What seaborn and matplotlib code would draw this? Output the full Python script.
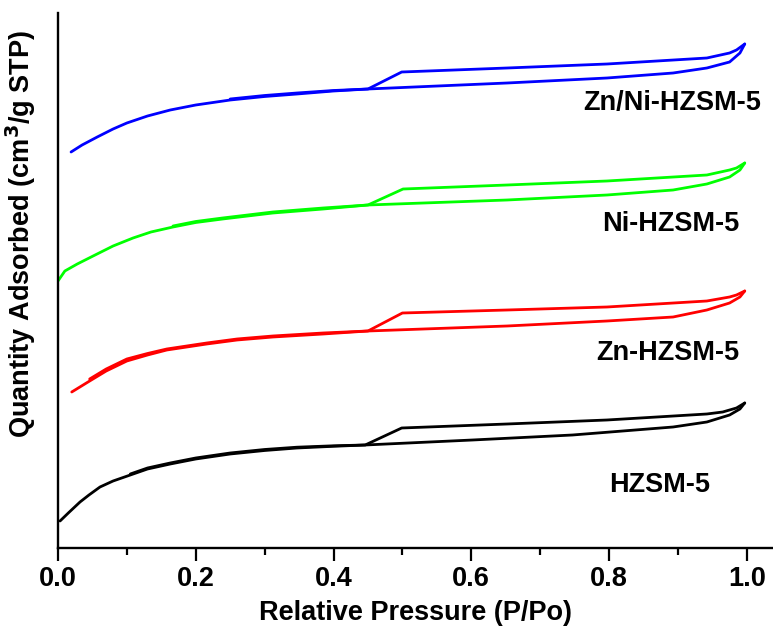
import matplotlib
matplotlib.use("Agg")
import matplotlib.pyplot as plt
import seaborn as sns
import pandas as pd

# ---- data (relative pressure, quantity adsorbed in arbitrary offset units) ----
samples = ["HZSM-5", "Zn-HZSM-5", "Ni-HZSM-5", "Zn/Ni-HZSM-5"]
colors = ["#000000", "#FF0000", "#00FF00", "#0000FF"]

h_ads_x = [0.003, 0.015, 0.032, 0.045, 0.061, 0.08, 0.105, 0.13, 0.163, 0.2, 0.25, 0.3, 0.347, 0.4, 0.446,
           0.602, 0.747, 0.893, 0.942, 0.975, 0.99, 0.997]
h_ads_y = [27, 35, 46, 53, 61, 67, 73, 79, 84, 89, 94, 97.5, 100, 101.7, 103,
           108, 113, 121, 126, 133, 139, 145]
h_des_x = [0.997, 0.985, 0.965, 0.942, 0.797, 0.652, 0.499, 0.446, 0.4, 0.347, 0.3, 0.25, 0.2, 0.163, 0.13, 0.105]
h_des_y = [145, 140, 136, 134, 128, 124, 120, 103, 102.2, 100.8, 98.5, 95, 90, 85, 80, 74]

zn_ads_x = [0.020, 0.046, 0.07, 0.100, 0.13, 0.158, 0.216, 0.26, 0.312, 0.385, 0.450,
            0.652, 0.797, 0.893, 0.942, 0.975, 0.99, 0.997]
zn_ads_y = [156, 167, 177, 187, 193, 198, 204, 208, 211, 214, 217,
            222, 227, 231, 238, 245, 251, 257]
zn_des_x = [0.997, 0.985, 0.975, 0.942, 0.797, 0.652, 0.500, 0.450, 0.385, 0.312, 0.26, 0.216, 0.158,
            0.13, 0.100, 0.07, 0.046]
zn_des_y = [257, 253, 251, 247, 241, 238, 235, 217, 215, 212, 209, 205, 199, 194.5, 189, 179, 169]

ni_ads_x = [0.0, 0.010, 0.028, 0.051, 0.08, 0.109, 0.135, 0.167, 0.2, 0.239, 0.312, 0.385, 0.450,
            0.652, 0.797, 0.893, 0.942, 0.975, 0.99, 0.997]
ni_ads_y = [267, 277, 284, 292, 302, 310, 316, 321, 325.5, 329, 335, 339, 343,
            348, 353, 358, 364, 371, 378, 385]
ni_des_x = [0.997, 0.985, 0.975, 0.942, 0.797, 0.652, 0.501, 0.450, 0.385, 0.312, 0.239, 0.2, 0.167]
ni_des_y = [385, 380, 378, 373, 367, 363, 359, 343, 340, 336, 330, 326.5, 322]

znni_ads_x = [0.019, 0.035, 0.057, 0.08, 0.100, 0.13, 0.163, 0.2, 0.250, 0.3, 0.347, 0.4, 0.450,
              0.652, 0.797, 0.893, 0.942, 0.975, 0.99, 0.997]
znni_ads_y = [396, 403, 411, 419, 425, 432, 438, 443, 448, 451.5, 454, 457, 459,
              465, 470, 475, 480, 486, 495, 504]
znni_des_x = [0.997, 0.985, 0.975, 0.942, 0.797, 0.652, 0.499, 0.450, 0.4, 0.347, 0.3, 0.250]
znni_des_y = [504, 498, 495, 490, 484, 480, 476, 459, 457.5, 455, 452.5, 449]

label_x = [0.80, 0.782, 0.790, 0.762]
label_y = [63, 195, 324, 445]

xticks = [0.0, 0.2, 0.4, 0.6, 0.8, 1.0]
xtick_labels = ["0.0", "0.2", "0.4", "0.6", "0.8", "1.0"]

# ---- build long table ----
branches = [
    (samples[0], "ads", h_ads_x, h_ads_y), (samples[0], "des", h_des_x, h_des_y),
    (samples[1], "ads", zn_ads_x, zn_ads_y), (samples[1], "des", zn_des_x, zn_des_y),
    (samples[2], "ads", ni_ads_x, ni_ads_y), (samples[2], "des", ni_des_x, ni_des_y),
    (samples[3], "ads", znni_ads_x, znni_ads_y), (samples[3], "des", znni_des_x, znni_des_y),
]
rows = []
for s, b, xs, ys in branches:
    for i, (xv, yv) in enumerate(zip(xs, ys)):
        rows.append({"sample": s, "branch": s + "_" + b, "order": i, "P": xv, "Q": yv})
df = pd.DataFrame(rows)

sns.set_theme(style="ticks")
plt.rcParams["font.family"] = ["Liberation Sans", "DejaVu Sans"]
plt.rcParams["font.weight"] = "bold"
plt.rcParams["text.color"] = "black"
plt.rcParams["axes.labelcolor"] = "black"
plt.rcParams["xtick.color"] = "black"
plt.rcParams["ytick.color"] = "black"

fig = plt.figure(figsize=(7.73, 6.28), dpi=100)
ax = fig.add_axes([0.075, 0.1274, 0.925, 0.8519])

sns.lineplot(data=df, x="P", y="Q", hue="sample", units="branch", estimator=None,
             sort=False, palette=dict(zip(samples, colors)), hue_order=samples,
             linewidth=2.0, legend=False, ax=ax)

for s, lx, ly in zip(samples, label_x, label_y):
    ax.text(lx, ly, s, fontsize=19.5, fontweight="bold", ha="left", va="center", color="black")

ax.set_xlim(0, 1.038)
ax.set_ylim(0, 535)
ax.set_xticks(xticks)
ax.set_xticklabels(xtick_labels, fontsize=19.5, fontweight="bold", color="black")
ax.set_xticks([0.1, 0.3, 0.5, 0.7, 0.9], minor=True)
ax.set_yticks([])
ax.tick_params(axis="x", which="major", direction="out", length=9, width=1.6, pad=4, colors="black")
ax.tick_params(axis="x", which="minor", direction="out", length=5, width=1.6, colors="black")

ax.set_xlabel("Relative Pressure (P/Po)", fontsize=19.5, fontweight="bold", labelpad=6, color="black")
ax.set_ylabel("Quantity Adsorbed (cm$^3$/g STP)", fontsize=19.5, fontweight="bold", color="black")
ax.yaxis.set_label_coords(-0.028, 0.587)

for side in ["top", "right"]:
    ax.spines[side].set_visible(False)
for side in ["left", "bottom"]:
    ax.spines[side].set_linewidth(1.7)
    ax.spines[side].set_color("black")

fig.savefig("out.png", dpi=100)
